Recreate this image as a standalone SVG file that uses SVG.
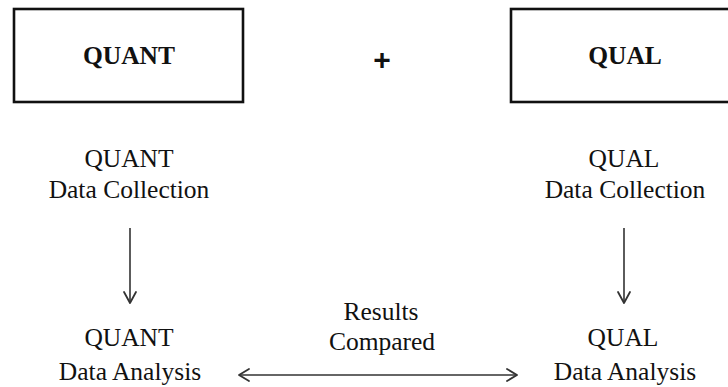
<svg xmlns="http://www.w3.org/2000/svg" width="728" height="387" viewBox="0 0 728 387">
<style>
.box{fill:#fff;stroke:#111;stroke-width:2.6}
.hd{font-family:"Liberation Serif",serif;font-weight:bold;font-size:25.5px;fill:#111;text-anchor:middle}
.t{font-family:"Liberation Serif",serif;font-size:25.5px;fill:#111;text-anchor:middle}
.ln{stroke:#333;stroke-width:1.6;fill:none}
.hdk{stroke:#333;stroke-width:1.8;fill:none;stroke-linecap:round;stroke-linejoin:round}
</style>
<rect width="728" height="387" fill="#fff"/>
<g id="quant-box"><rect class="box" x="14" y="9" width="229" height="93"/><text class="hd" x="129" y="64">QUANT</text></g>
<g id="plus"><text x="382" y="70" font-family="Liberation Sans,sans-serif" font-weight="bold" font-size="30" text-anchor="middle" fill="#111">+</text></g>
<g id="qual-box"><rect class="box" x="511" y="9" width="230" height="93"/><text class="hd" x="625" y="64">QUAL</text></g>
<g id="quant-collection"><text class="t" x="129" y="167">QUANT</text><text class="t" x="129" y="198">Data Collection</text></g>
<g id="qual-collection"><text class="t" x="624" y="167">QUAL</text><text class="t" x="625" y="198">Data Collection</text></g>
<g id="quant-analysis"><text class="t" x="129" y="346">QUANT</text><text class="t" x="130" y="380">Data Analysis</text></g>
<g id="qual-analysis"><text class="t" x="623" y="346">QUAL</text><text class="t" x="625" y="380">Data Analysis</text></g>
<g id="results-compared"><text class="t" x="381" y="320">Results</text><text class="t" x="382" y="350">Compared</text></g>
<g id="connectors">
<line class="ln" x1="130" y1="228" x2="130" y2="302"/><polyline class="hdk" points="124,292 130,303 136,292"/>
<line class="ln" x1="624" y1="228" x2="624" y2="302"/><polyline class="hdk" points="618,292 624,303 630,292"/>
<line class="ln" x1="239" y1="375" x2="517" y2="375"/>
<polyline class="hdk" points="249,369 239,375 249,381"/>
<polyline class="hdk" points="507,369 517,375 507,381"/>
</g>
</svg>
